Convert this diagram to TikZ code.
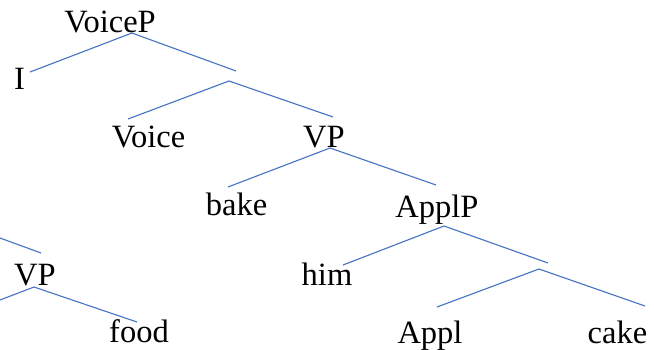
\documentclass[tikz,border=0pt]{standalone}
\usepackage{fontspec}
\setmainfont{Liberation Serif}
\definecolor{branch}{RGB}{68,114,196}
\tikzset{
  lbl/.style={anchor=base, inner sep=0pt, font=\fontsize{32.5}{38}\selectfont},
  br/.style={draw=branch, line width=1.1pt}
}
\begin{document}
\begin{tikzpicture}[x=1pt,y=-1pt]
\useasboundingbox (0,0) rectangle (654,349);
% labels
\node[lbl] (voicep) at (110,32) {VoiceP};
\node[lbl] (i) at (19.5,89) {I};
\node[lbl] (voice) at (148.5,147) {Voice};
\node[lbl] (vp) at (324,147) {VP};
\node[lbl] (bake) at (236.5,215) {bake};
\node[lbl] (applp) at (437,217) {ApplP};
\node[lbl] (him) at (327,285) {him};
\node[lbl] (appl) at (430,343) {Appl};
\node[lbl] (cake) at (617.5,343) {cake};
\node[lbl] (vp2) at (35,285) {VP};
\node[lbl] (food) at (139,342) {food};
% branch points
\coordinate (a1) at (132,33);
\coordinate (a1l) at (30,72);
\coordinate (a1r) at (236,71);
\coordinate (a2) at (229,81);
\coordinate (a2l) at (128,119);
\coordinate (a2r) at (333,117);
\coordinate (a3) at (330,148);
\coordinate (a3l) at (228,187);
\coordinate (a3r) at (436,185);
\coordinate (a4) at (444,226);
\coordinate (a4l) at (343,265);
\coordinate (a4r) at (548,263);
\coordinate (a5) at (539,269);
\coordinate (a5l) at (437,307);
\coordinate (a5r) at (645,306);
\coordinate (b0) at (0,238);
\coordinate (b0r) at (41,253);
\coordinate (b1) at (34,287);
\coordinate (b1l) at (0,300);
\coordinate (b1r) at (137,322);
% branches
\draw[br] (a1l) -- (a1) -- (a1r);
\draw[br] (a2l) -- (a2) -- (a2r);
\draw[br] (a3l) -- (a3) -- (a3r);
\draw[br] (a4l) -- (a4) -- (a4r);
\draw[br] (a5l) -- (a5) -- (a5r);
\draw[br] (b0) -- (b0r);
\draw[br] (b1l) -- (b1) -- (b1r);
\end{tikzpicture}
\end{document}
